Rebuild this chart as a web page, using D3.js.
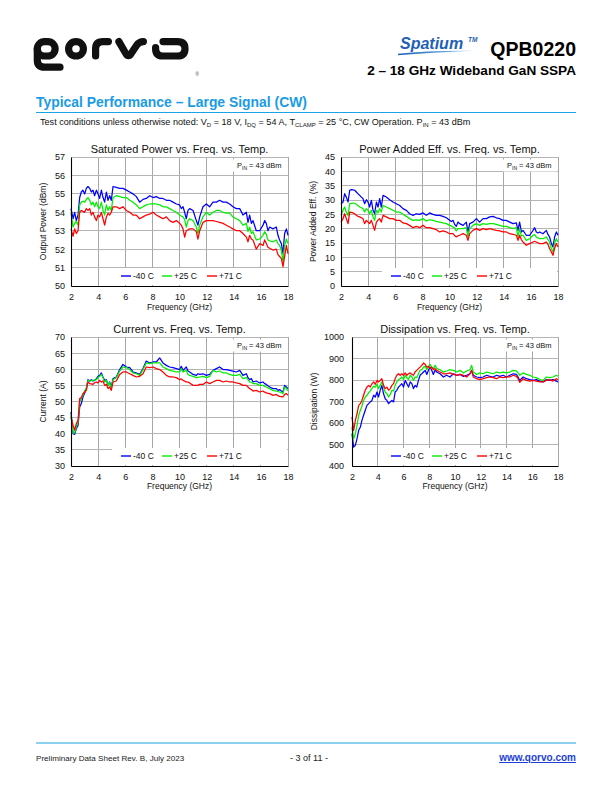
<!DOCTYPE html>
<html><head><meta charset="utf-8">
<script src="https://cdn.jsdelivr.net/npm/d3@7"></script>
<style>body{margin:0;background:#fff}svg{display:block}text{font-family:"Liberation Sans",Arial,sans-serif}</style>
</head><body>
<svg id="page" width="612" height="792"></svg>
<script>
// ---------------- DATA ----------------
const freqA = [2.00,2.15,2.27,2.39,2.52, 2.64,2.76,2.88,3.01,3.13, 3.25,3.38,3.50,3.62,3.74, 3.87,3.99,4.11,4.24,4.36, 4.48,4.61,4.73,4.85,4.97, 5.10,5.34,5.59,5.83,6.08, 6.33,6.57,6.82,7.06,7.31, 7.55,7.80,8.05,8.29,8.54, 8.78,9.03,9.27,9.52,9.77, 10.01,10.13,10.26,10.38,10.50, 10.63,10.75,11.00,11.24,11.36, 11.49,11.73,11.98,12.22,12.47, 12.72,12.96,13.21,13.45,13.70, 13.94,14.19,14.44,14.68,14.93, 15.05,15.17,15.30,15.42,15.66, 15.91,16.16,16.28,16.40,16.52, 16.65,16.89,17.14,17.26,17.38, 17.51,17.63,17.75,17.88,18.00];

const psatM40 = [54.2,53.65,54.0,53.55,53.85, 54.8,55.1,55.2,55.0,55.3, 55.4,55.3,55.1,55.2,54.9, 55.2,55.0,54.75,55.2,54.8, 54.55,55.1,54.65,54.9,54.65, 55.4,55.35,55.3,55.3,55.2, 55.1,55.0,54.85,54.55,54.7, 54.75,54.9,54.8,54.85,54.75, 54.75,54.65,54.65,54.55,54.45, 54.4,54.2,54.3,54.0,53.65, 54.1,54.2,54.1,53.55,53.3, 53.75,54.3,54.45,54.3,54.55, 54.55,54.65,54.55,54.55,54.45, 54.3,54.2,54.2,53.85,54.0, 53.45,53.85,53.4,53.55,53.0, 53.0,53.3,53.55,53.4,53.0, 53.2,53.1,53.2,52.75,52.5, 52.3,51.75,52.85,53.1,52.75];
const psatP25 = [54.0,53.2,53.4,53.5,53.3, 54.4,54.55,54.6,54.55,54.7, 54.8,54.65,54.4,54.55,54.3, 54.55,54.3,54.2,54.55,54.1, 53.85,54.4,54.1,54.3,54.1, 54.8,54.9,54.85,54.8,54.8, 54.65,54.55,54.4,54.2,54.3, 54.4,54.45,54.45,54.45,54.4, 54.3,54.3,54.2,54.1,54.0, 53.85,53.8,53.75,53.6,53.2, 53.55,53.65,53.55,53.2,52.85, 53.3,53.75,54.0,53.85,54.0, 54.1,54.1,54.0,53.95,53.95, 53.75,53.65,53.55,53.3,53.4, 52.95,53.2,52.85,52.95,52.5, 52.55,52.75,52.95,52.8,52.5, 52.45,52.4,52.5,52.3,52.2, 51.95,51.3,52.2,52.55,52.3];
const psatP71 = [53.1,52.7,53.1,52.85,53.0, 54.0,54.1,54.05,54.0,54.2, 54.1,54.2,53.85,54.0,53.75, 53.55,53.85,53.75,54.0,53.65, 53.3,53.75,53.95,53.85,54.0, 54.3,54.3,54.2,54.3,54.1, 54.0,53.85,53.85,53.65,53.75, 53.85,53.9,54.0,53.85,53.75, 53.65,53.75,53.55,53.45,53.55, 53.4,53.3,53.1,52.65,53.0, 53.05,53.1,53.1,52.95,52.55, 53.0,53.45,53.55,53.55,53.55, 53.5,53.45,53.4,53.3,53.2, 53.1,53.0,53.0,52.85,52.65, 52.4,52.75,52.55,52.5,52.0, 52.3,52.2,52.5,52.3,52.1, 52.05,51.95,52.0,51.7,51.6, 51.5,51.05,51.6,52.2,51.75];

const paeM40 = [28.7,29.3,32.2,31.0,29.3, 33.4,33.6,33.5,33.4,32.8, 32.2,31.6,31.0,30.5,28.7, 30.1,29.3,27.55,29.9,26.4, 25.2,29.3,27.55,30.5,27.55, 31.6,31.05,30.1,29.3,28.7, 28.1,27.0,26.4,25.2,24.65, 25.2,25.0,25.5,24.65,25.5, 25.0,24.65,24.65,24.3,23.8, 22.9,22.5,22.9,21.5,20.8, 22.3,21.75,21.15,22.3,18.85, 21.75,22.3,23.5,22.3,23.5, 23.5,24.1,24.3,23.8,23.5, 22.9,22.9,22.3,21.75,22.0, 19.4,22.3,18.85,19.4,17.7, 17.7,19.4,20.35,18.85,18.5, 18.85,18.25,19.4,18.0,17.1, 14.8,13.6,17.1,18.85,17.7];
const paeP25 = [24.65,26.4,27.55,25.8,24.65, 28.7,28.8,28.95,28.8,28.5, 28.1,27.55,27.3,27.0,25.8, 27.0,26.4,25.2,26.4,24.1, 22.9,26.4,25.5,27.0,25.8, 28.1,27.55,27.0,26.4,25.8, 25.8,25.0,24.3,23.5,22.9, 23.1,22.9,23.5,22.7,23.1, 22.9,22.55,22.3,22.0,21.75, 21.15,21.0,20.6,20.2,19.2, 20.0,20.0,20.0,20.35,17.1, 20.0,21.15,21.75,21.15,21.75, 21.5,21.75,21.75,21.5,21.15, 20.8,20.8,20.35,20.0,20.35, 17.1,20.0,17.5,17.7,15.9, 16.5,17.7,17.9,17.1,16.8, 16.5,16.5,17.1,16.2,15.35, 13.0,11.85,15.0,16.5,15.35];
const paeP71 = [22.3,23.5,25.2,23.5,21.75, 25.8,25.7,25.5,25.2,24.65, 24.3,24.1,23.8,23.5,21.75, 22.9,22.3,21.75,22.9,21.15, 19.4,22.3,23.0,23.5,22.3, 24.65,24.1,23.5,23.5,22.9, 22.9,22.0,21.75,21.15,20.35, 20.8,20.35,21.15,20.35,20.35, 20.0,19.65,18.85,19.2,18.85, 18.25,18.3,18.25,17.6,17.1, 17.5,17.7,18.25,17.7,15.9, 18.25,19.4,20.0,19.4,20.0, 19.65,20.0,19.65,19.4,19.2, 18.85,18.85,18.25,18.0,17.7, 15.9,17.7,16.2,15.35,14.2, 14.8,15.35,15.6,15.35,15.1, 14.8,14.8,15.35,14.5,13.0, 11.85,10.7,13.2,14.8,13.6];

const curM40 = [46.75,40.0,39.8,41.6,42.6, 48.3,49.35,51.4,52.65,54.0, 56.75,56.35,56.75,56.35,56.55, 57.1,57.8,58.1,58.85,57.6, 56.55,56.75,55.0,56.05,54.5, 57.1,57.6,59.9,61.5,60.7, 60.5,59.15,58.85,58.4,60.2, 62.55,61.95,62.25,62.25,63.5, 61.95,61.2,60.7,60.5,60.2, 59.9,60.9,59.65,60.2,60.7, 59.45,59.15,58.4,58.1,58.6, 58.4,58.6,58.1,58.4,59.65, 60.2,60.7,59.9,59.9,59.65, 59.45,59.15,59.65,58.1,58.6, 57.4,56.75,57.1,56.05,56.35, 55.75,56.05,55.55,55.3,54.9, 54.5,54.0,54.0,53.45,53.7, 53.25,52.95,55.0,54.5,54.0];
const curP25 = [45.7,40.3,40.2,42.1,43.65, 49.85,50.9,51.9,53.45,54.0, 56.55,56.35,56.45,56.55,56.65, 56.75,57.4,57.8,58.4,57.4, 56.05,56.55,55.0,56.05,54.0, 56.75,57.4,59.45,60.7,60.5, 59.9,58.85,58.6,58.1,59.9, 61.95,61.75,61.95,61.95,61.95, 60.7,60.2,59.65,59.45,59.15, 59.15,60.2,59.15,59.4,59.65, 58.4,58.1,57.8,57.4,57.5, 57.6,57.8,57.4,57.8,59.65, 59.15,59.45,58.85,58.85,58.4, 58.1,58.1,58.4,57.1,57.4, 56.8,56.05,56.0,55.55,55.55, 55.0,55.0,54.7,54.5,54.2, 54.0,53.45,53.25,53.1,52.95, 52.7,52.45,54.5,54.0,53.25];
const curP71 = [45.2,42.6,41.1,43.1,44.15, 50.9,51.2,52.45,52.95,53.45, 56.05,55.55,55.45,55.3,55.8, 56.05,55.75,56.55,56.05,56.35, 55.0,55.3,54.0,54.5,53.45, 56.05,56.35,58.4,59.15,59.15, 58.6,58.1,57.6,57.8,58.6, 60.7,60.5,60.7,60.2,59.9, 59.15,58.1,57.6,57.6,57.4, 56.75,57.0,56.55,56.3,56.05, 56.0,55.75,55.0,55.0,55.1, 55.3,55.3,56.05,55.55,56.05, 56.55,56.55,56.05,56.35,56.05, 56.05,55.75,55.55,55.0,55.0, 54.5,54.0,53.7,53.25,53.45, 52.95,53.25,52.9,52.65,52.55, 52.45,51.9,52.2,51.8,51.6, 51.5,51.4,52.2,52.45,51.9];

const freqB = [2.00,2.13,2.26,2.39,2.52,2.65,2.77,2.90,3.03,3.16, 3.29,3.42,3.55,3.68,3.81,3.94,4.06,4.19,4.32,4.45, 4.58,4.71,4.84,4.97,5.10,5.23,5.35,5.48,5.61,5.74, 5.87,6.00,6.13,6.26,6.39,6.52,6.65,6.77,6.90,7.03, 7.16,7.29,7.42,7.55,7.68,7.81,7.94,8.06,8.19,8.32, 8.45,8.58, 8.84,9.10,9.35,9.61,9.87,10.13,10.39,10.65,10.90,11.16, 11.29, 11.42,11.68,11.94,12.19,12.45,12.71,12.97,13.23,13.48,13.74,14.00,14.26,14.52,14.77, 14.90, 15.03,15.29,15.55,15.81,16.06,16.32,16.58,16.84,17.10,17.35,17.61,17.87, 18.00];

const disM40 = [550,488,496,527,566,581,612,636,659,682, 690,698,705,729,721,744,721,752,775,736, 713,705,690,698,705,698,744,752,767,775, 783,767,798,783,767,791,783,760,775,767, 798,822,829,837,845,826,845,860,845,826, 845,837, 829,814,822,814,829,822,826,817,822,829, 845, 822,814,811,814,822,817,814,822,817,822,814,822,829,826, 814, 798,814,806,802,798,802,795,791,802,798,802,795, 791];
const disP25 = [581,527,550,589,636,659,678,705,721,729, 740,749,760,771,767,780,760,775,791,767, 744,736,721,733,752,749,775,791,802,806, 814,802,822,811,802,822,814,798,814,811, 829,845,848,860,864,848,860,873,860,853, 868,853, 848,837,842,848,845,837,845,833,842,848, 868, 837,826,833,829,837,833,829,837,833,837,833,837,845,842, 833, 822,833,826,822,814,811,802,798,814,811,814,822, 817];
const disP71 = [628,566,612,643,682,690,705,729,752,767, 775,767,783,791,780,798,791,798,806,775, 760,767,752,760,775,783,806,822,829,822, 829,822,833,822,829,833,826,822,837,845, 853,860,868,879,873,860,864,853,860,848, 853,845, 837,829,829,833,826,822,826,822,814,829, 845, 814,806,802,806,811,814,811,806,814,811,814,814,822,817, 806, 789,806,798,795,798,795,791,791,798,802,795,806, 802];

const tempLabels = ["-40 C", "+25 C", "+71 C"];
const freqTicks = [2,4,6,8,10,12,14,16,18];
const psatTicks = [50,51,52,53,54,55,56,57];
const paeTicks = [0,5,10,15,20,25,30,35,40,45];
const curTicks = [30,35,40,45,50,55,60,65,70];
const disTicks = [400,500,600,700,800,900,1000];
const chartTitles = ["Saturated Power vs. Freq. vs. Temp.", "Power Added Eff. vs. Freq. vs. Temp.", "Current vs. Freq. vs. Temp.", "Dissipation vs. Freq. vs. Temp."];
const yTitles = ["Output Power (dBm)", "Power Added Eff. (%)", "Current (A)", "Dissipation (W)"];

// ---------------- DRAW ----------------
const FONT = "Liberation Sans, Arial, sans-serif";
const svg = d3.select("#page");
svg.append("rect").attr("width",612).attr("height",792).attr("fill","#fff");
const colors = ["#0000ff","#00ee00","#ff0000"];

// Logo (qorvo) drawn as rounded strokes
const logo = svg.append("g").attr("fill","none").attr("stroke","#111").attr("stroke-width",7.2).attr("stroke-linecap","round").attr("stroke-linejoin","round");
logo.append("rect").attr("x",37.3).attr("y",41.6).attr("width",17.8).attr("height",14.4).attr("rx",7.2);
logo.append("path").attr("d","M37.3 49 V60 Q37.3 67.2 44.5 67.2 H60");
logo.append("rect").attr("x",68.6).attr("y",41.6).attr("width",14.8).attr("height",14.4).attr("rx",7.2);
logo.append("path").attr("d","M95.6 56 V48.8 Q95.6 41.6 102.8 41.6 H108.4");
logo.append("path").attr("d","M118.9 41.6 L125.5 53 Q128.5 58.5 131.5 53 L136.5 45.5 Q139 41.6 143.4 41.6");
logo.append("path").attr("d","M163 41.6 H177.6 Q185 41.6 185 48.8 Q185 56 177.6 56 H162.8 Q155.6 56 155.6 48.8 V47.5");
svg.append("text").attr("x",195.5).attr("y",76).attr("font-size",4.5).attr("fill","#333").attr("font-family",FONT).text("®");

// Spatium
const defs = svg.append("defs");
const grad = defs.append("linearGradient").attr("id","sw").attr("x1","0").attr("x2","1");
grad.append("stop").attr("offset","0").attr("stop-color","#1f5fb8");
grad.append("stop").attr("offset","0.6").attr("stop-color","#5aa0e0");
grad.append("stop").attr("offset","1").attr("stop-color","#cfe4f7");
svg.append("path").attr("d","M398 53.8 Q430 50.2 476 50.8 Q430 52.6 398 55.3 Z").attr("fill","url(#sw)");
svg.append("text").attr("x",400).attr("y",49).attr("font-size",16).attr("font-style","italic").attr("font-weight","bold")
  .attr("fill","#1f5fb8").attr("font-family",FONT).text("Spatium");
svg.append("text").attr("x",468).attr("y",42).attr("font-size",6.5).attr("font-style","italic").attr("font-weight","bold")
  .attr("fill","#1f5fb8").attr("font-family",FONT).text("TM");
svg.append("text").attr("x",576).attr("y",56).attr("text-anchor","end").attr("font-size",19.5).attr("font-weight","bold")
  .attr("fill","#000").attr("font-family",FONT).text("QPB0220");
svg.append("text").attr("x",576).attr("y",74.5).attr("text-anchor","end").attr("font-size",13.6).attr("font-weight","bold")
  .attr("fill","#000").attr("font-family",FONT).text("2 – 18 GHz Wideband GaN SSPA");

// Section heading
svg.append("text").attr("x",36).attr("y",107).attr("font-size",15.5).attr("font-weight","bold").attr("fill","#1a9be6")
  .attr("font-family",FONT).attr("textLength",271).attr("lengthAdjust","spacingAndGlyphs").text("Typical Performance – Large Signal (CW)");
svg.append("line").attr("x1",36).attr("x2",576).attr("y1",112.5).attr("y2",112.5).attr("stroke","#1aa3e8").attr("stroke-width",1.2);

// Test conditions with subscripts
const tc = svg.append("text").attr("x",40).attr("y",125.3).attr("font-size",9.1).attr("fill","#111").attr("font-family",FONT);
function sub(t, s){ tc.append("tspan").attr("font-size",6).attr("dy",1.6).text(s); tc.append("tspan").attr("dy",-1.6).text(t); }
tc.append("tspan").text("Test conditions unless otherwise noted:  V");
sub(" = 18 V,  I","D");
sub(" = 54 A, T","DQ");
sub(" = 25 °C, CW Operation. P","CLAMP");
sub(" = 43 dBm","IN");

// Footer
svg.append("line").attr("x1",36).attr("x2",576).attr("y1",743).attr("y2",743).attr("stroke","#1aa3e8").attr("stroke-width",1);
svg.append("text").attr("x",36).attr("y",761).attr("font-size",8.1).attr("fill","#222").attr("font-family",FONT).text("Preliminary Data Sheet Rev. B, July 2023");
svg.append("text").attr("x",309).attr("y",761).attr("text-anchor","middle").attr("font-size",9).attr("fill","#222").attr("font-family",FONT).text("- 3 of 11 -");
svg.append("text").attr("x",576).attr("y",761).attr("text-anchor","end").attr("font-size",10).attr("font-weight","bold").attr("fill","#1d3fd6")
  .attr("text-decoration","underline").attr("font-family",FONT).text("www.qorvo.com");

// Charts
const charts = [
  {left:71,right:288,top:157,bottom:286,dom:[50,57],ticks:psatTicks,title:chartTitles[0],ytitle:yTitles[0],ytx:43,freq:freqA,series:[psatM40,psatP25,psatP71],xtitleY:310},
  {left:341,right:558,top:157,bottom:286,dom:[0,45],ticks:paeTicks,title:chartTitles[1],ytitle:yTitles[1],ytx:313,freq:freqA,series:[paeM40,paeP25,paeP71],xtitleY:310},
  {left:71,right:288,top:337,bottom:466,dom:[30,70],ticks:curTicks,title:chartTitles[2],ytitle:yTitles[2],ytx:43,freq:freqA,series:[curM40,curP25,curP71],xtitleY:489},
  {left:352,right:558,top:337,bottom:466,dom:[400,1000],ticks:disTicks,title:chartTitles[3],ytitle:yTitles[3],ytx:314,freq:freqB,series:[disM40,disP25,disP71],xtitleY:489}
];

charts.forEach(c => {
  const g = svg.append("g");
  const x = d3.scaleLinear().domain([2,18]).range([c.left,c.right]);
  const y = d3.scaleLinear().domain(c.dom).range([c.bottom,c.top]);
  // grid
  g.append("g").selectAll("line").data(freqTicks).join("line")
    .attr("x1",d=>x(d)).attr("x2",d=>x(d)).attr("y1",c.top).attr("y2",c.bottom)
    .attr("stroke","#a6a6a6").attr("stroke-width",1).attr("shape-rendering","crispEdges");
  g.append("g").selectAll("line").data(c.ticks).join("line")
    .attr("x1",c.left).attr("x2",c.right).attr("y1",d=>y(d)).attr("y2",d=>y(d))
    .attr("stroke","#b4b4b4").attr("stroke-width",1).attr("shape-rendering","crispEdges");
  // legend box (white) & P_IN box
  g.append("rect").attr("x",c.right-176).attr("y",c.bottom-18).attr("width",175).attr("height",17).attr("fill","#fff");
  g.append("rect").attr("x",c.right-55).attr("y",c.top+2.5).attr("width",54).attr("height",12).attr("fill","#fff");
  // series
  c.series.forEach((s,i) => {
    const line = d3.line().x((d,j)=>x(c.freq[j])).y(d=>y(d));
    g.append("path").datum(s).attr("d",line).attr("fill","none").attr("stroke",colors[i]).attr("stroke-width",1.25).attr("stroke-linejoin","round");
  });
  // axes
  const ax = g.append("g").attr("transform",`translate(0,${c.bottom})`)
    .call(d3.axisBottom(x).tickValues(freqTicks).tickSize(0).tickSizeOuter(0).tickPadding(6).tickFormat(d3.format("d")));
  const ay = g.append("g").attr("transform",`translate(${c.left},0)`)
    .call(d3.axisLeft(y).tickValues(c.ticks).tickSize(0).tickSizeOuter(0).tickPadding(c.left===352?8:6).tickFormat(d3.format("d")));
  [ax,ay].forEach(a => { a.attr("font-family",FONT).attr("font-size",9);
    a.select(".domain").attr("stroke","#000").attr("stroke-width",1.1);
    a.selectAll("text").attr("fill","#111"); });
  ax.selectAll("text").attr("dy","0.9em");
  // titles
  g.append("text").attr("x",(c.left+c.right)/2).attr("y",c.top-4).attr("text-anchor","middle").attr("font-size",11).attr("fill","#111").attr("font-family",FONT).text(c.title);
  g.append("text").attr("x",(c.left+c.right)/2).attr("y",c.xtitleY).attr("text-anchor","middle").attr("font-size",8.5).attr("fill","#111").attr("font-family",FONT).text("Frequency (GHz)");
  g.append("text").attr("transform",`translate(${c.ytx + 3},${(c.top+c.bottom)/2}) rotate(-90)`).attr("text-anchor","middle").attr("font-size",8.5).attr("fill","#111").attr("font-family",FONT).text(c.ytitle);
  // P_IN label
  const pt = g.append("text").attr("x",c.right-51).attr("y",c.top+11).attr("font-size",7.5).attr("fill","#111").attr("font-family",FONT);
  pt.append("tspan").text("P"); pt.append("tspan").attr("font-size",5).attr("dy",1.5).text("IN"); pt.append("tspan").attr("dy",-1.5).text(" = 43 dBm");
  // legend
  const ly = c.bottom - 10;
  const offs = [167,126,81];
  tempLabels.forEach((t,i) => {
    g.append("line").attr("x1",c.right-offs[i]).attr("x2",c.right-offs[i]+10).attr("y1",ly).attr("y2",ly).attr("stroke",colors[i]).attr("stroke-width",1.4);
    g.append("text").attr("x",c.right-offs[i]+12).attr("y",ly+3).attr("font-size",8.5).attr("fill","#111").attr("font-family",FONT).text(t);
  });
});
</script>
</body></html>
